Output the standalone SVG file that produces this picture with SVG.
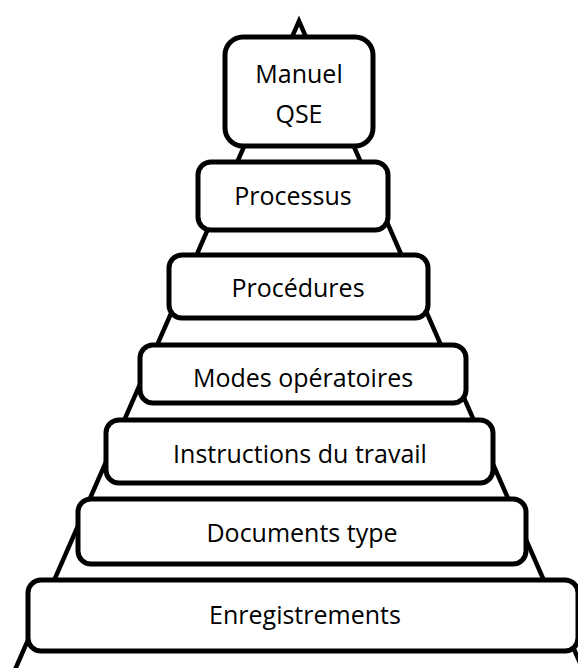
<svg xmlns="http://www.w3.org/2000/svg" width="578" height="668" viewBox="0 0 578 668">
  <style>
    .box { fill: #ffffff; stroke: #000000; stroke-width: 5; }
    .label { font-family: "Open Sans", "Liberation Sans", sans-serif; font-size: 25px; fill: #000000; text-anchor: middle; }
    .edge { fill: none; stroke: #000000; stroke-width: 4.5; stroke-linejoin: miter; }
  </style>
  <rect width="578" height="668" fill="#ffffff"/>

  <!-- pyramid outline behind the levels -->
  <g id="connectors">
    <polyline class="edge" points="14,672 299,21 584,672"/>
  </g>

  <g id="manuel-qse">
    <rect class="box" x="225" y="37" width="148" height="109" rx="18"/>
    <text class="label" x="299" y="83">Manuel</text>
    <text class="label" x="299" y="123">QSE</text>
  </g>

  <g id="processus">
    <rect class="box" x="198" y="162" width="190" height="68" rx="13"/>
    <text class="label" x="293" y="205">Processus</text>
  </g>

  <g id="procedures">
    <rect class="box" x="169" y="255" width="259" height="63" rx="13"/>
    <text class="label" x="298" y="297">Procédures</text>
  </g>

  <g id="modes-operatoires">
    <rect class="box" x="140" y="345" width="326" height="58" rx="13"/>
    <text class="label" x="303" y="387">Modes opératoires</text>
  </g>

  <g id="instructions">
    <rect class="box" x="106" y="420" width="387" height="63" rx="13"/>
    <text class="label" x="300" y="463">Instructions du travail</text>
  </g>

  <g id="documents-type">
    <rect class="box" x="78" y="499" width="448" height="65" rx="13"/>
    <text class="label" x="302" y="542">Documents type</text>
  </g>

  <g id="enregistrements">
    <rect class="box" x="28" y="580" width="550" height="71" rx="13"/>
    <text class="label" x="305" y="624">Enregistrements</text>
  </g>
</svg>
